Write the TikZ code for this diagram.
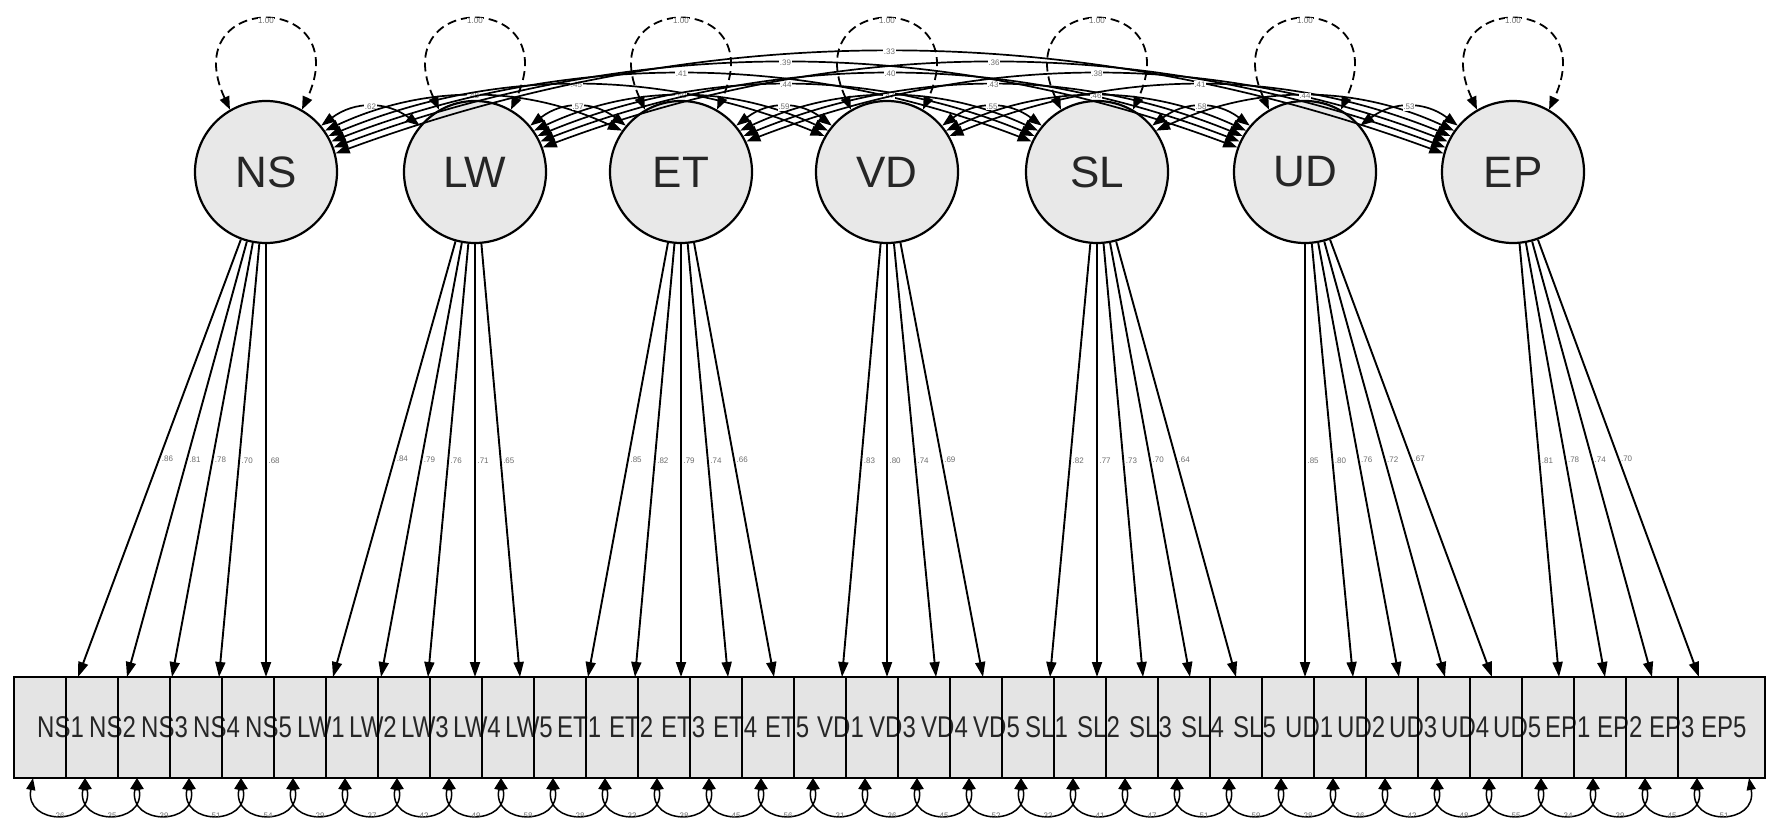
\documentclass[tikz,border=0pt]{standalone}
\usepackage{fontspec}
\setmainfont{Liberation Sans}
\usepackage{graphicx}
\usetikzlibrary{arrows.meta,calc}
\definecolor{latfill}{HTML}{E8E8E8}
\definecolor{obsfillc}{HTML}{E4E4E4}
\definecolor{labgray}{HTML}{6E6E6E}
\definecolor{txtc}{HTML}{262626}
\begin{document}
\begin{tikzpicture}[x=1pt,y=-1pt,
  lat/.style={circle,draw=black,line width=2.2pt,fill=latfill,minimum size=142pt,inner sep=0pt,font=\fontsize{44}{48}\selectfont,text=txtc},
  obsbox/.style={rectangle,fill=obsfillc,inner sep=0pt,minimum height=101pt,outer sep=0pt},
  obstext/.style={anchor=west,inner sep=0pt,font=\fontsize{30}{33}\selectfont,text=txtc},
  load/.style={line width=1.9pt,-{Triangle[length=15pt,width=10pt]}},
  cov/.style={line width=1.7pt,{Triangle[length=14pt,width=10pt]}-{Triangle[length=14pt,width=10pt]}},
  lvar/.style={line width=1.8pt,dash pattern=on 9pt off 5pt,{Triangle[length=13pt,width=10pt]}-{Triangle[length=13pt,width=10pt]}},
  evar/.style={line width=1.5pt,{Triangle[length=12pt,width=9pt]}-{Triangle[length=12pt,width=9pt]}},
  tiny/.style={font=\fontsize{8}{9}\selectfont,text=labgray,inner sep=0.6pt},
]
\fill[white] (0,0) rectangle (1777,819);
\useasboundingbox (0,0) rectangle (1777,819);

% latent factors
\foreach \n/\x [count=\i from 0] in {NS/266,LW/475,ET/681,VD/887,SL/1097,UD/1305,EP/1513}{
  \node[lat,alias=\n] (L\i) at (\x,172) {\n};
}

% latent variances (dashed loops)
\foreach \i in {0,...,6}{
  \draw[lvar] (L\i.120) .. controls +(-55,-119) and +(55,-119) .. (L\i.60);
  \node[tiny,fill=white] (lv\i) at ($(L\i.center)+(0,-151)$) {1.00};
}

% covariances between factors
\def\latx{{266,475,681,887,1097,1305,1513}}
\foreach \i/\j/\cv in {0/1/.62,0/2/.48,0/3/.45,0/4/.41,0/5/.39,0/6/.33,
  1/2/.57,1/3/.50,1/4/.44,1/5/.40,1/6/.36,
  2/3/.59,2/4/.47,2/5/.43,2/6/.38,
  3/4/.55,3/5/.46,3/6/.41,
  4/5/.58,4/6/.44,
  5/6/.53}{
  \pgfmathtruncatemacro\d{\j-\i}
  \pgfmathtruncatemacro\s{40-5*(\d-1)}
  \pgfmathtruncatemacro\e{180-\s}
  \pgfmathsetmacro\pk{119-11.2*\d}
  \pgfmathsetmacro\ye{172-71*sin(\s)}
  \pgfmathsetmacro\cy{(\ye-\pk)/0.75}
  \pgfmathsetmacro\xi{\latx[\i]}
  \pgfmathsetmacro\xj{\latx[\j]}
  \pgfmathsetmacro\cx{(\xj-\xi-142*cos(\s))/3}
  \draw[cov] (L\i.\s) .. controls +(\cx,-\cy) and +(-\cx,-\cy) .. (L\j.\e)
    node[pos=0.5,tiny,fill=white] {\cv};
}

% observed variables
\def\obslist{NS1,NS2,NS3,NS4,NS5,LW1,LW2,LW3,LW4,LW5,ET1,ET2,ET3,ET4,ET5,VD1,VD3,VD4,VD5,SL1,SL2,SL3,SL4,SL5,UD1,UD2,UD3,UD4,UD5,EP1,EP2,EP3,EP5}
\foreach \lab [count=\k from 0] in \obslist{
  \pgfmathsetmacro\bw{\k==32 ? 87 : 52}
  \node[obsbox,minimum width=\bw pt] (B\k) at (14+52*\k+\bw/2,727.5) {};
}
\foreach \lab [count=\k from 0] in \obslist{
  \node[obstext] (T\k) at ($(B\k.west)+(23,0)$) {\scalebox{0.8}[1]{\lab}};
}
\foreach \k in {0,...,32}{
  \draw[line width=2.2pt] (B\k.north west) rectangle (B\k.south east);
}

% loadings
\foreach \tx/\li/\v [count=\k from 0] in {78/0/.86,127/0/.81,172/0/.78,219/0/.70,266/0/.68,
  333/1/.84,381/1/.79,428/1/.76,475/1/.71,520/1/.65,
  588/2/.85,635/2/.82,681/2/.79,728/2/.74,774/2/.66,
  842/3/.83,887/3/.80,936/3/.74,983/3/.69,
  1050/4/.82,1097/4/.77,1143/4/.73,1190/4/.70,1236/4/.64,
  1305/5/.85,1353/5/.80,1399/5/.76,1445/5/.72,1492/5/.67,
  1559/6/.81,1605/6/.78,1652/6/.74,1699/6/.70}{
  \coordinate (tip\k) at (\tx,677);
  \draw[load] (L\li) -- (tip\k) node[pos=0.5,tiny,anchor=west,xshift=1pt] {\v};
}

% error variances of observed variables
\foreach \v [count=\k from 0] in {.26,.35,.39,.51,.54,.29,.37,.42,.49,.58,.28,.33,.38,.45,.56,.31,.36,.45,.52,.33,.41,.47,.51,.59,.28,.36,.42,.48,.55,.34,.39,.45,.51}{
  \draw[evar] ($(B\k.south west)+(19,0)$) .. controls +(-9,48) and +(9,48) .. ($(B\k.south west)+(71,0)$);
  \node[tiny] (ev\k) at ($(B\k.south west)+(45,38)$) {\v};
}
\end{tikzpicture}
\end{document}
